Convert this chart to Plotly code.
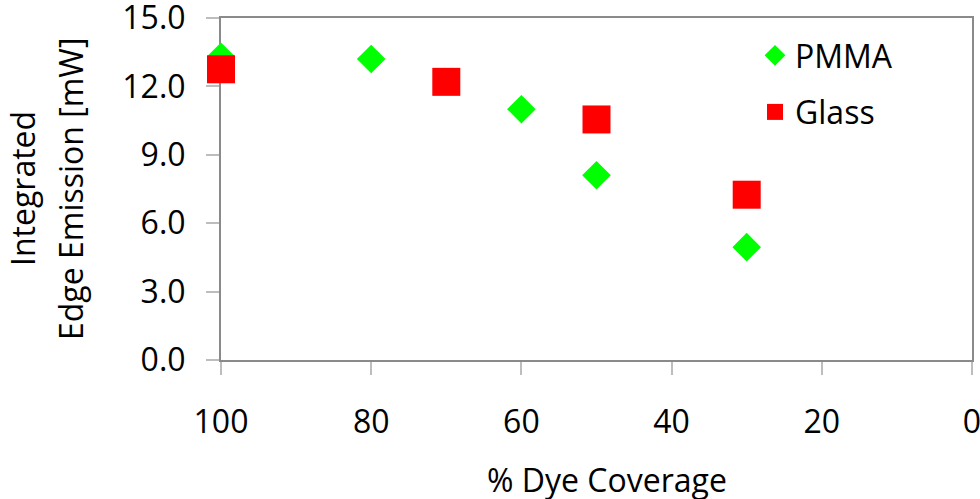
import plotly.graph_objects as go

# Dye coverage (%) and integrated edge emission (mW) per substrate
pmma_coverage = [100, 80, 60, 50, 30]
pmma_emission = [13.3, 13.2, 11.0, 8.1, 4.95]

glass_coverage = [100, 70, 50, 30]
glass_emission = [12.75, 12.2, 10.55, 7.25]

x_ticks = [100, 80, 60, 40, 20, 0]
y_ticks = [0, 3, 6, 9, 12, 15]

FONT = "Open Sans"
FS = 32
AXIS_GRAY = "#8a8a8a"
TICK_GRAY = "#bdbdbd"

fig = go.Figure()
fig.add_trace(go.Scatter(
    x=pmma_coverage, y=pmma_emission, mode="markers", name="PMMA",
    legendgroup="pmma", cliponaxis=False,
    marker=dict(symbol="diamond", size=22, color="#00ff00", line=dict(width=0)),
))
fig.add_trace(go.Scatter(
    x=glass_coverage, y=glass_emission, mode="markers", name="Glass",
    legendgroup="glass", cliponaxis=False,
    marker=dict(symbol="square", size=28, color="#ff0000", line=dict(width=0)),
))

L, R, T, B = 221, 8, 18, 139
W, H = 980, 499
pw, ph = W - L - R, H - T - B

fig.update_layout(
    width=W, height=H,
    margin=dict(l=L, r=R, t=T, b=B, pad=0, autoexpand=False),
    paper_bgcolor="white", plot_bgcolor="white",
    font=dict(family=FONT, size=FS, color="black"),
    showlegend=True,
    legend=dict(
        x=(755 - L) / pw, y=1 - (28 - T) / ph, xanchor="left", yanchor="top",
        bgcolor="rgba(0,0,0,0)", borderwidth=0,
        font=dict(family=FONT, size=FS, color="black"),
        traceorder="grouped", tracegroupgap=12, itemsizing="trace",
    ),
    xaxis=dict(
        range=[100, 0], tickvals=x_ticks, ticktext=[str(v) for v in x_ticks],
        showgrid=False, zeroline=False, automargin=False,
        showline=True, linecolor=AXIS_GRAY, linewidth=2, mirror=True,
        ticks="outside", ticklen=13, tickwidth=1.5, tickcolor=TICK_GRAY,
        ticklabelstandoff=20, ticklabeloverflow="allow", layer="below traces",
        tickfont=dict(family=FONT, size=FS, color="black"),
    ),
    yaxis=dict(
        range=[0, 15], tickvals=y_ticks, ticktext=[f"{v:.1f}" for v in y_ticks],
        showgrid=False, zeroline=False, automargin=False,
        showline=True, linecolor=AXIS_GRAY, linewidth=2, mirror=True,
        ticks="outside", ticklen=13, tickwidth=1.5, tickcolor=TICK_GRAY,
        ticklabelstandoff=14, ticklabeloverflow="allow", layer="below traces",
        tickfont=dict(family=FONT, size=FS, color="black"),
    ),
)

def px_x(p):
    return (p - L) / pw

def px_y(p):
    return (H - B - p) / ph

annotations = [
    dict(text="% Dye Coverage", x=px_x(607), y=px_y(479)),
    dict(text="Integrated", x=px_x(22), y=px_y(189), textangle=-90),
    dict(text="Edge Emission [mW]", x=px_x(70), y=px_y(189), textangle=-90),
]
for a in annotations:
    fig.add_annotation(
        xref="paper", yref="paper", xanchor="center", yanchor="middle",
        showarrow=False, font=dict(family=FONT, size=FS, color="black"), **a,
    )

fig.write_html("out.html")
